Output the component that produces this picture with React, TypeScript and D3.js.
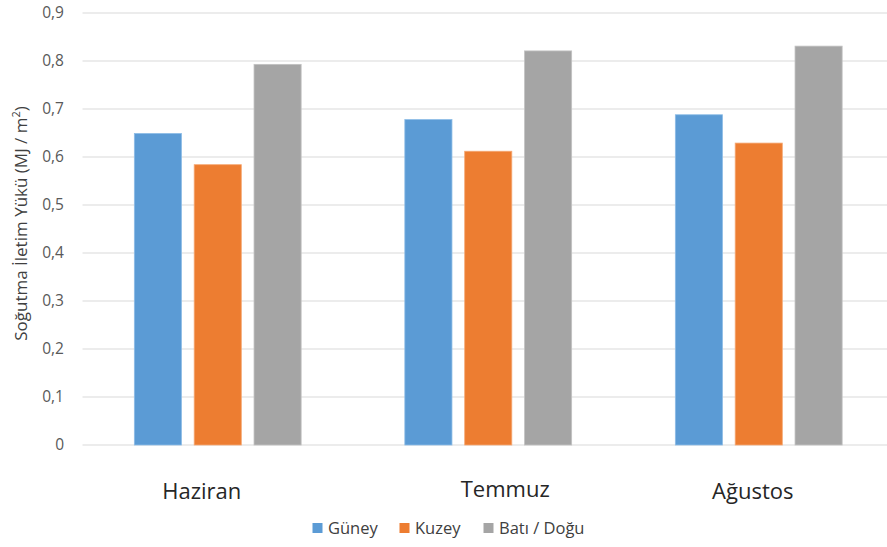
import React from "react";
import * as d3 from "d3";

const categories = ["Haziran", "Temmuz", "Ağustos"];
const seriesNames = ["Güney", "Kuzey", "Batı / Doğu"];
const guney = [0.649, 0.678, 0.688];
const kuzey = [0.584, 0.612, 0.629];
const batiDogu = [0.793, 0.821, 0.831];
const yTicks = [0, 0.1, 0.2, 0.3, 0.4, 0.5, 0.6, 0.7, 0.8, 0.9];

const colors = ["#5B9BD5", "#ED7D31", "#A5A5A5"];
const strokeColors = ["#8DBCE6", "#F5A874", "#C2C2C2"];
// small visual offsets of category labels as seen in the reference
const labelDx = [-16, 17, -6];
const labelDy = [0, -2, 0];

const W = 887;
const H = 547;
const FONT = "'Open Sans', sans-serif";

export default function App() {
  const seriesValues = [guney, kuzey, batiDogu];
  const y = d3.scaleLinear().domain([0, 0.9]).range([445, 13]);
  const x = d3.scaleBand<string>().domain(categories).range([82.5, 894]).padding(0);
  const band = x.bandwidth();
  const barW = band / (3 + 2 * 0.27 + 2.2);
  const gap = barW * 0.27;
  const groupW = 3 * barW + 2 * gap;
  const xi = d3
    .scaleBand<string>()
    .domain(seriesNames)
    .range([0, groupW])
    .paddingInner(gap / (barW + gap))
    .paddingOuter(0);
  const fmt = (v: number) => (v === 0 ? "0" : d3.format(".1f")(v).replace(".", ","));

  const legendX = [312.5, 399.5, 483.5];

  return (
    <svg
      width={W}
      height={H}
      style={{ position: "absolute", left: 0, top: 0, background: "#fff" }}
      fontFamily={FONT}
    >
      <rect x={0} y={0} width={W} height={H} fill="#fff" />
      {yTicks.map((t) => (
        <g key={t}>
          <line x1={82.5} x2={W} y1={y(t)} y2={y(t)} stroke="#D9D9D9" strokeWidth={1} />
          <text x={64} y={y(t)} dy="0.35em" textAnchor="end" fontSize={15.5} fill="#595959">
            {fmt(t)}
          </text>
        </g>
      ))}
      {categories.map((c, ci) => {
        const gx = (x(c) as number) + band / 2 - groupW / 2;
        return (
          <g key={c}>
            {seriesNames.map((s, si) => {
              const v = seriesValues[si][ci];
              return (
                <rect
                  key={s}
                  x={gx + (xi(s) as number)}
                  y={y(v)}
                  width={xi.bandwidth()}
                  height={y(0) - y(v)}
                  fill={colors[si]}
                  stroke={strokeColors[si]}
                  strokeWidth={0.8}
                />
              );
            })}
            <text
              x={(x(c) as number) + band / 2 + labelDx[ci]}
              y={498.5 + labelDy[ci]}
              textAnchor="middle"
              fontSize={22}
              fill="#262626"
            >
              {c}
            </text>
          </g>
        );
      })}
      <text
        transform="translate(27,223.5) rotate(-90)"
        textAnchor="middle"
        fontSize={17}
        fill="#404040"
      >
        Soğutma İletim Yükü (MJ / m
        <tspan dy={-7} fontSize={11}>2</tspan>
        <tspan dy={7}>)</tspan>
      </text>
      {seriesNames.map((s, si) => (
        <g key={s}>
          <rect x={legendX[si]} y={523} width={10} height={10} fill={colors[si]} />
          <text x={legendX[si] + 15.5} y={533.5} fontSize={16.5} fill="#404040">
            {s}
          </text>
        </g>
      ))}
    </svg>
  );
}
